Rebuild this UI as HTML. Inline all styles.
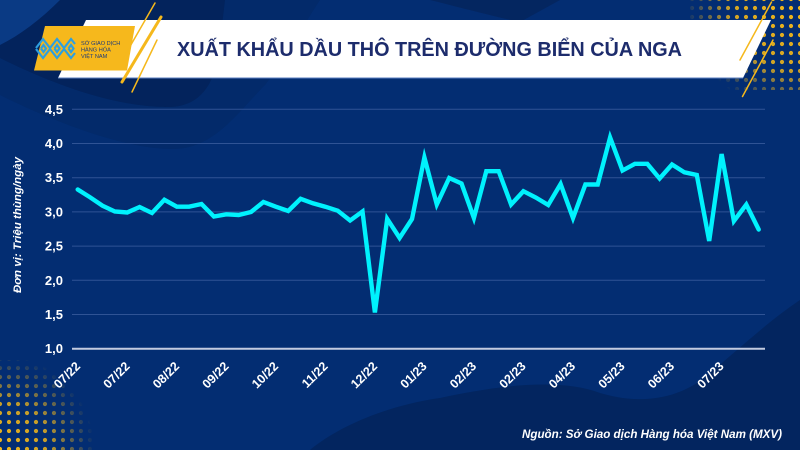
<!DOCTYPE html>
<html>
<head>
<meta charset="utf-8">
<style>
html,body{margin:0;padding:0;background:#032d72;}
body{width:800px;height:450px;overflow:hidden;}
svg{display:block;}
text{font-family:"Liberation Sans",sans-serif;}
</style>
</head>
<body>
<svg width="800" height="450" viewBox="0 0 800 450" xmlns="http://www.w3.org/2000/svg">
<defs>
  <pattern id="dotsTR" x="705.5" y="3.5" width="9" height="9" patternUnits="userSpaceOnUse">
    <circle cx="4.5" cy="4.5" r="2.1" fill="#f7ba18"/>
  </pattern>
  <pattern id="dotsBL" x="-4.5" y="3.5" width="9" height="9" patternUnits="userSpaceOnUse">
    <circle cx="4.5" cy="4.5" r="2.1" fill="#f7ba18"/>
  </pattern>
  <radialGradient id="gTR" cx="800" cy="0" r="115" gradientUnits="userSpaceOnUse">
    <stop offset="0" stop-color="#fff" stop-opacity="1"/>
    <stop offset="0.6" stop-color="#fff" stop-opacity="0.85"/>
    <stop offset="1" stop-color="#fff" stop-opacity="0"/>
  </radialGradient>
  <radialGradient id="gBL" cx="0" cy="450" r="95" gradientUnits="userSpaceOnUse">
    <stop offset="0" stop-color="#fff" stop-opacity="1"/>
    <stop offset="0.5" stop-color="#fff" stop-opacity="0.8"/>
    <stop offset="1" stop-color="#fff" stop-opacity="0"/>
  </radialGradient>
  <mask id="mTR"><rect x="690" y="0" width="110" height="90" fill="url(#gTR)"/></mask>
  <mask id="mBL"><rect x="0" y="360" width="110" height="90" fill="url(#gBL)"/></mask>
</defs>

<!-- background -->
<rect x="0" y="0" width="800" height="450" fill="#032d72"/>
<path d="M0,95 C40,115 120,150 175,149 C215,148 240,110 265,85 C285,60 300,30 320,0 L0,0 Z" fill="#032a6a"/>
<path d="M0,58 C40,78 110,108 170,107 C200,106 212,85 218,60 L225,0 L0,0 Z" fill="#03235c"/>
<path d="M0,0 L60,0 C40,20 20,35 0,45 Z" fill="#0a3a84"/>
<path d="M310,450 C340,425 390,405 440,398 C500,385 560,378 600,393 C640,405 680,400 710,373 C740,348 770,320 800,300 L800,450 Z" fill="#03255f"/>
<path d="M430,0 C470,10 500,18 520,22 L560,0 Z" fill="#042660"/>

<!-- dot grids -->
<rect x="690" y="0" width="110" height="90" fill="url(#dotsTR)" mask="url(#mTR)"/>
<rect x="0" y="360" width="110" height="90" fill="url(#dotsBL)" mask="url(#mBL)"/>

<!-- header banner -->
<polygon points="86,20 771,20 743,78 58,78" fill="#ffffff"/>
<line x1="58" y1="78" x2="743" y2="78" stroke="#5b7fc0" stroke-width="1"/>
<polygon points="45,26 135,26 127,70.5 34,70.5" fill="#f6b81c"/>

<!-- logo icon -->
<g fill="none" stroke="#2d9fe0" stroke-width="2.2" stroke-linejoin="miter">
  <polyline points="36,48 43,39 50,48 57,39 64,48 71,39 75,44"/>
  <polyline points="36,49 43,58 50,49 57,58 64,49 71,58 75,53"/>
  <polyline points="41,48.5 43.5,45 46,48.5 43.5,52 41,48.5"/>
  <polyline points="54.5,48.5 57,45 59.5,48.5 57,52 54.5,48.5"/>
  <polyline points="68.5,48.5 71,45 73.5,48.5 71,52 68.5,48.5"/>
</g>
<text x="81" y="45" font-size="5.6" fill="#1c3a7a">SỞ GIAO DỊCH</text>
<text x="81" y="51.5" font-size="5.6" fill="#1c3a7a">HÀNG HÓA</text>
<text x="81" y="58" font-size="5.6" fill="#1c3a7a">VIỆT NAM</text>

<!-- yellow stripes -->
<g stroke="#f5b81c" stroke-linecap="round">
  <line x1="155" y1="3" x2="121" y2="62" stroke-width="1.5"/>
  <line x1="161" y1="17" x2="122" y2="82" stroke-width="3"/>
  <line x1="157" y1="40" x2="132" y2="92" stroke-width="1.5"/>
  <line x1="771.5" y1="2" x2="740" y2="60" stroke-width="1.5"/>
  <line x1="773" y1="40" x2="742.5" y2="96.5" stroke-width="1.5"/>
</g>

<!-- title -->
<text x="177" y="56" font-size="20" font-weight="bold" fill="#1d2c6c" textLength="505" lengthAdjust="spacingAndGlyphs">XUẤT KHẨU DẦU THÔ TRÊN ĐƯỜNG BIỂN CỦA NGA</text>

<!-- gridlines -->
<g stroke="#2f5395" stroke-width="1">
  <line x1="72" y1="109.3" x2="765" y2="109.3"/>
  <line x1="72" y1="143.5" x2="765" y2="143.5"/>
  <line x1="72" y1="177.7" x2="765" y2="177.7"/>
  <line x1="72" y1="211.9" x2="765" y2="211.9"/>
  <line x1="72" y1="246.1" x2="765" y2="246.1"/>
  <line x1="72" y1="280.3" x2="765" y2="280.3"/>
  <line x1="72" y1="314.5" x2="765" y2="314.5"/>
</g>
<line x1="72" y1="348.7" x2="765" y2="348.7" stroke="#c3cbe0" stroke-width="2"/>

<!-- y tick labels -->
<g font-size="13" font-weight="bold" fill="#ffffff" text-anchor="end">
  <text x="63" y="113.8">4,5</text>
  <text x="63" y="148">4,0</text>
  <text x="63" y="182.2">3,5</text>
  <text x="63" y="216.4">3,0</text>
  <text x="63" y="250.6">2,5</text>
  <text x="63" y="284.8">2,0</text>
  <text x="63" y="319">1,5</text>
  <text x="63" y="353.2">1,0</text>
</g>

<!-- y axis title -->
<text transform="translate(21,225) rotate(-90)" text-anchor="middle" font-size="11" font-weight="bold" font-style="italic" fill="#ffffff" textLength="136" lengthAdjust="spacingAndGlyphs">Đơn vị: Triệu thùng/ngày</text>

<!-- x labels -->
<g font-size="12.5" font-weight="bold" fill="#ffffff" text-anchor="end">
  <text transform="translate(81,367) rotate(-45)">07/22</text>
  <text transform="translate(130.5,367) rotate(-45)">07/22</text>
  <text transform="translate(180,367) rotate(-45)">08/22</text>
  <text transform="translate(229.5,367) rotate(-45)">09/22</text>
  <text transform="translate(279,367) rotate(-45)">10/22</text>
  <text transform="translate(328.5,367) rotate(-45)">11/22</text>
  <text transform="translate(378,367) rotate(-45)">12/22</text>
  <text transform="translate(427.5,367) rotate(-45)">01/23</text>
  <text transform="translate(477,367) rotate(-45)">02/23</text>
  <text transform="translate(526.5,367) rotate(-45)">02/23</text>
  <text transform="translate(576,367) rotate(-45)">04/23</text>
  <text transform="translate(625.5,367) rotate(-45)">05/23</text>
  <text transform="translate(675,367) rotate(-45)">06/23</text>
  <text transform="translate(724.5,367) rotate(-45)">07/23</text>
</g>

<!-- data line -->
<polyline fill="none" stroke="#00f2fd" stroke-width="4.4" stroke-linejoin="miter" stroke-miterlimit="6" stroke-linecap="round"
points="77.7,189.5 90.1,197.3 102.5,205.7 114.8,211.5 127.2,212.5 139.6,207 152.0,213 164.4,199.8 176.8,206.7 189.1,206.7 201.5,204 213.9,216.5 226.3,214.3 238.7,215 251.0,212 263.4,202 275.8,206.7 288.2,211 300.6,198.8 312.9,203.3 325.3,206.7 337.7,210.7 350.1,220.5 362.5,211.5 374.9,312.5 387.2,218.8 399.6,238 412.0,219 424.4,157.5 436.8,204.5 449.2,178 461.5,183.5 473.9,218 486.3,171.2 498.7,171.2 511.1,204.5 523.4,191.2 535.8,197.5 548.2,205 560.6,184 573.0,218 585.4,184.5 597.7,184.5 610.1,137.5 622.5,170.5 634.9,163.8 647.3,163.8 659.6,178.5 672.0,164.5 684.4,172.3 696.8,175 709.2,241 721.6,154 733.9,221 746.3,204.5 758.7,229.5"/>

<!-- source -->
<text x="782" y="438" text-anchor="end" font-size="12" font-weight="bold" font-style="italic" fill="#ffffff" textLength="260" lengthAdjust="spacingAndGlyphs">Nguồn: Sở Giao dịch Hàng hóa Việt Nam (MXV)</text>
</svg>
</body>
</html>
